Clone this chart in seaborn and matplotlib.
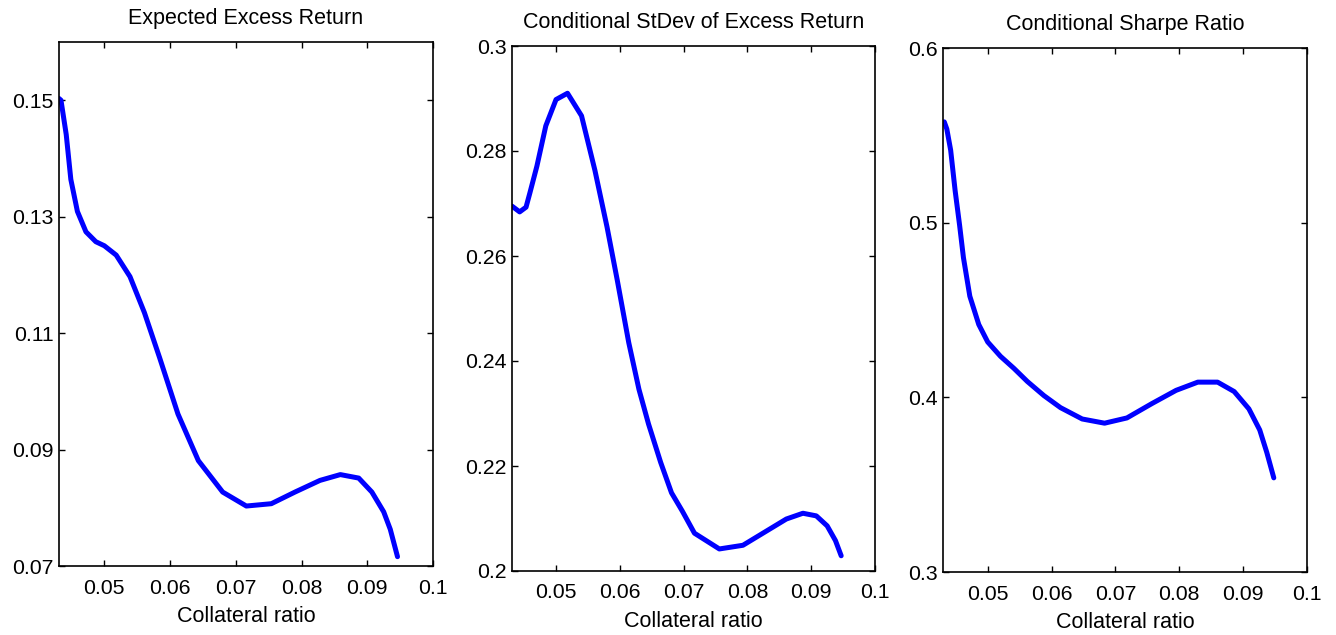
import matplotlib
matplotlib.use("Agg")
import matplotlib.pyplot as plt
import seaborn as sns
import pandas as pd

# ---- data ----
x_ret = [0.0431, 0.0434, 0.0442, 0.0449, 0.0459, 0.0472, 0.0487, 0.0500, 0.0518, 0.0539,
         0.0561, 0.0584, 0.0612, 0.0643, 0.0680, 0.0716, 0.0754, 0.0790, 0.0828, 0.0859,
         0.0887, 0.0907, 0.0925, 0.0935, 0.0946]
y_ret = [0.1503, 0.1500, 0.1441, 0.1364, 0.1309, 0.1274, 0.1257, 0.1250, 0.1234, 0.1197,
         0.1135, 0.1058, 0.0961, 0.0881, 0.0827, 0.0803, 0.0807, 0.0827, 0.0847, 0.0857,
         0.0851, 0.0827, 0.0793, 0.0763, 0.0716]

x_sd = [0.0431, 0.0443, 0.0453, 0.0459, 0.0470, 0.0484, 0.0500, 0.0518, 0.0540, 0.0561,
        0.0580, 0.0596, 0.0614, 0.0630, 0.0645, 0.0664, 0.0681, 0.0698, 0.0717, 0.0756,
        0.0793, 0.0827, 0.0861, 0.0887, 0.0908, 0.0925, 0.0938, 0.0947]
y_sd = [0.2695, 0.2684, 0.2693, 0.2720, 0.2771, 0.2848, 0.2898, 0.2910, 0.2867, 0.2763,
        0.2655, 0.2554, 0.2435, 0.2346, 0.2280, 0.2207, 0.2149, 0.2114, 0.2072, 0.2042,
        0.2049, 0.2074, 0.2099, 0.2110, 0.2105, 0.2086, 0.2058, 0.2029]

x_sr = [0.0432, 0.0436, 0.0442, 0.0449, 0.0456, 0.0462, 0.0472, 0.0486, 0.0500, 0.0520,
        0.0541, 0.0562, 0.0588, 0.0614, 0.0648, 0.0683, 0.0718, 0.0757, 0.0795, 0.0829,
        0.0860, 0.0886, 0.0909, 0.0926, 0.0937, 0.0948]
y_sr = [0.5577, 0.5536, 0.5415, 0.5183, 0.4985, 0.4800, 0.4579, 0.4417, 0.4317, 0.4235,
        0.4166, 0.4091, 0.4010, 0.3941, 0.3876, 0.3852, 0.3882, 0.3964, 0.4040, 0.4087,
        0.4087, 0.4033, 0.3934, 0.3813, 0.3685, 0.3539]

titles = ["Expected Excess Return", "Conditional StDev of Excess Return", "Conditional Sharpe Ratio"]
x_label = "Collateral ratio"
x_ticks = [0.05, 0.06, 0.07, 0.08, 0.09, 0.1]
x_ticklabels = ["0.05", "0.06", "0.07", "0.08", "0.09", "0.1"]
y_ticks_ret = [0.07, 0.09, 0.11, 0.13, 0.15]
y_ticklabels_ret = ["0.07", "0.09", "0.11", "0.13", "0.15"]
y_ticks_sd = [0.2, 0.22, 0.24, 0.26, 0.28, 0.3]
y_ticklabels_sd = ["0.2", "0.22", "0.24", "0.26", "0.28", "0.3"]
y_ticks_sr = [0.3, 0.4, 0.5, 0.6]
y_ticklabels_sr = ["0.3", "0.4", "0.5", "0.6"]

sns.set_style("ticks")
plt.rcParams["font.family"] = ["Liberation Sans", "DejaVu Sans"]
plt.rcParams["axes.linewidth"] = 1.0
plt.rcParams["text.color"] = "black"
plt.rcParams["axes.labelcolor"] = "black"
plt.rcParams["xtick.color"] = "black"
plt.rcParams["ytick.color"] = "black"

fig = plt.figure(figsize=(13.36, 6.35), dpi=100)
W, H = 1336, 635
boxes = [(59, 433, 42, 566), (512, 875, 46, 571), (943, 1307, 48, 572)]
axes = [fig.add_axes([l / W, (H - b) / H, (r - l) / W, (b - t) / H]) for l, r, t, b in boxes]

series = [(x_ret, y_ret, 0.0431, (0.07, 0.16), y_ticks_ret, y_ticklabels_ret),
          (x_sd, y_sd, 0.0431, (0.2, 0.3), y_ticks_sd, y_ticklabels_sd),
          (x_sr, y_sr, 0.0430, (0.3, 0.6), y_ticks_sr, y_ticklabels_sr)]

for ax, (xs, ys, x0, yl, yt, ytl), title in zip(axes, series, titles):
    df = pd.DataFrame({"x": xs, "y": ys})
    sns.lineplot(data=df, x="x", y="y", ax=ax, sort=False, color="#0000ff", linewidth=3.6)
    ax.set_xlim(x0, 0.1)
    ax.set_ylim(*yl)
    ax.set_xticks(x_ticks)
    ax.set_xticklabels(x_ticklabels)
    ax.set_yticks(yt)
    ax.set_yticklabels(ytl)
    ax.tick_params(axis="both", direction="in", length=4, width=1, labelsize=15.3,
                   top=True, right=True, colors="black", labelcolor="black")
    ax.tick_params(axis="x", pad=9)
    ax.tick_params(axis="y", pad=4)
    for s in ax.spines.values():
        s.set_visible(True)
        s.set_color("black")
        s.set_linewidth(1.2)
    ax.set_xlabel(x_label, fontsize=15.5, labelpad=6, color="black")
    ax.set_ylabel("")
    ax.set_title(title, fontsize=15.5, pad=13, color="black")

fig.savefig("out.png", dpi=100, facecolor="white")
